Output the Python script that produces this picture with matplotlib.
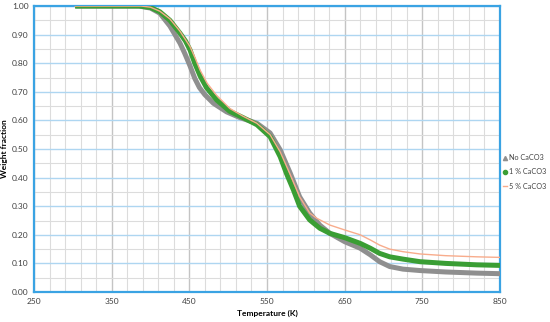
import numpy as np
import matplotlib.pyplot as plt

# temperatures (K) and weight fractions
t_none = [303, 385, 400, 412, 425, 438, 444, 451, 457, 463, 470, 481, 498, 515, 537, 554,
          567, 580, 592, 605, 618, 631, 650, 670, 683, 695, 708, 725, 747, 780, 820, 850]
w_none = [1.0, 1.0, 0.993, 0.975, 0.93, 0.87, 0.835, 0.79, 0.747, 0.715, 0.69, 0.66, 0.63, 0.61, 0.59, 0.556,
          0.497, 0.415, 0.333, 0.276, 0.234, 0.205, 0.176, 0.153, 0.13, 0.106, 0.089, 0.08, 0.075, 0.07, 0.066, 0.064]

t_1pc = [303, 386, 400, 412, 425, 438, 445, 451, 457, 464, 472, 485, 502, 519, 537, 554,
         567, 575, 584, 592, 605, 618, 631, 650, 670, 683, 695, 708, 725, 747, 780, 820, 850]
w_1pc = [1.0, 1.0, 0.995, 0.98, 0.95, 0.905, 0.878, 0.846, 0.80, 0.755, 0.715, 0.672, 0.632, 0.61, 0.585, 0.543,
         0.473, 0.415, 0.357, 0.30, 0.252, 0.223, 0.205, 0.19, 0.17, 0.153, 0.135, 0.123, 0.115, 0.106, 0.10, 0.095, 0.093]

t_5pc = [303, 388, 400, 412, 425, 438, 451, 458, 464, 473, 485, 502, 519, 537, 554,
         567, 580, 592, 605, 614, 631, 650, 670, 683, 695, 708, 725, 747, 780, 820, 850]
w_5pc = [1.0, 1.0, 0.996, 0.982, 0.955, 0.912, 0.858, 0.815, 0.775, 0.73, 0.688, 0.642, 0.615, 0.59, 0.55,
         0.49, 0.41, 0.333, 0.276, 0.258, 0.234, 0.217, 0.20, 0.182, 0.164, 0.15, 0.141, 0.133, 0.127, 0.123, 0.121]

labels = ["No CaCO3", "1 % CaCO3", "5 % CaCO3"]
x_ticks = [250, 350, 450, 550, 650, 750, 850]

c_gray = "#8f8f8f"
c_green = "#3a9e34"
c_orange = "#f8ac8c"
c_blue = "#3aa3e3"

plt.rcParams['font.family'] = ['Lato', 'DejaVu Sans']

fig = plt.figure(figsize=(5.5, 3.22), dpi=100)
ax = fig.add_axes([0.0618, 0.0932, 0.8473, 0.888])

ax.plot(t_none, w_none, color=c_gray, lw=3.6, solid_capstyle='butt', solid_joinstyle='round', zorder=3)
ax.plot(t_1pc, w_1pc, color=c_green, lw=3.6, solid_capstyle='butt', solid_joinstyle='round', zorder=4)
ax.plot(t_5pc, w_5pc, color=c_orange, lw=1.0, zorder=5)

# legend proxies
ax.plot([], [], '^', color=c_gray, ms=3, label=labels[0])
ax.plot([], [], 'o', color=c_green, ms=3, label=labels[1])
ax.plot([], [], '-', color=c_orange, lw=1.0, label=labels[2])

ax.set_xlim(250, 850)
ax.set_ylim(0, 1)
ax.set_xticks(x_ticks)
ax.set_xticks(np.arange(250, 851, 20), minor=True)
ax.set_yticks(np.arange(0, 1.01, 0.1))
ax.set_yticks(np.arange(0, 1.01, 0.05), minor=True)
ax.set_yticklabels([f"{v:.2f}" for v in np.arange(0, 1.01, 0.1)])

ax.grid(which='minor', axis='both', color='#dcdcdc', lw=0.8)
ax.grid(which='major', axis='x', color='#c4c4c4', lw=1.0)
ax.grid(which='major', axis='y', color='#aed6f1', lw=1.0)
ax.set_axisbelow(True)

for s in ax.spines.values():
    s.set_color(c_blue)
    s.set_linewidth(1.6)

ax.tick_params(which='both', length=0, labelsize=6, colors='#404040', pad=4)
ax.set_xlabel("Temperature (K)", fontsize=6, fontweight='bold', labelpad=4)
ax.set_ylabel("Weight fraction", fontsize=6, fontweight='bold', labelpad=3)

leg = ax.legend(loc='center left', bbox_to_anchor=(1.0, 0.42), frameon=False,
                fontsize=5.2, handlelength=0.5, handletextpad=0.35, labelspacing=1.0,
                borderaxespad=0.2, borderpad=0.2)
for t in leg.get_texts():
    t.set_color('#404040')

fig.savefig("out.png", dpi=100)
